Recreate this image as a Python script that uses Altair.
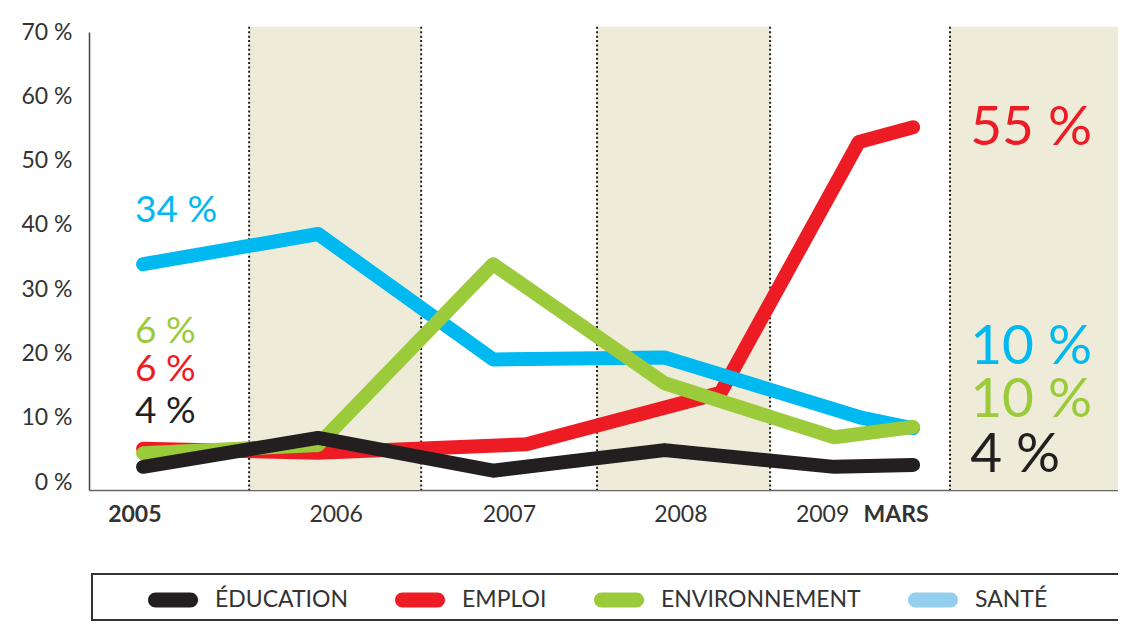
import altair as alt
import pandas as pd

# ---------------- data ----------------
categories = ["ÉDUCATION", "EMPLOI", "ENVIRONNEMENT", "SANTÉ"]
line_colors = ["#231F20", "#ED1C24", "#9BCA3B", "#00B9F1"]
legend_colors = ["#231F20", "#ED1C24", "#9BCA3B", "#94CFF0"]

# x = years elapsed since 2005 (last point = MARS)
educ_t = [0, 1, 2, 2.98, 3.95, 4.4]
educ_v = [2.4, 6.9, 1.8, 5.0, 2.4, 2.7]
emploi_t = [0, 1, 2.19, 3.3, 4.09, 4.4]
emploi_v = [5.2, 4.6, 5.9, 13.9, 52.9, 55.2]
env_t = [0, 1, 2, 2.98, 3.95, 4.4]
env_v = [4.5, 5.8, 33.9, 15.4, 7.0, 8.6]
sante_t = [0, 1, 2, 2.98, 4.11, 4.4]
sante_v = [33.9, 38.6, 19.1, 19.4, 10.0, 8.4]

x_tick_pos = [-0.05, 1.1, 2.09, 3.07, 3.88, 4.3]
x_tick_labels = ["2005", "2006", "2007", "2008", "2009", "MARS"]
x_bold_labels = ["2005", "MARS"]
y_ticks = [0, 10, 20, 30, 40, 50, 60, 70]

band_start = [0.606, 2.594, 4.611]
band_end = [1.589, 3.583, 5.571]
divider_pos = [0.606, 1.589, 2.594, 3.583, 4.611]

left_text = ["34 %", "6 %", "6 %", "4 %"]
left_pos_v = [42.2, 23.4, 17.5, 10.9]
left_colors = ["#00B9F1", "#9BCA3B", "#ED1C24", "#231F20"]
right_text = ["55 %", "10 %", "10 %", "4 %"]
right_pos_v = [55.1, 21.0, 12.8, 4.2]
right_colors = ["#ED1C24", "#00B9F1", "#9BCA3B", "#231F20"]
left_label_t = -0.046
right_label_t = 4.726

# ---------------- tables ----------------
series = {
    "ÉDUCATION": (educ_t, educ_v),
    "EMPLOI": (emploi_t, emploi_v),
    "ENVIRONNEMENT": (env_t, env_v),
    "SANTÉ": (sante_t, sante_v),
}
rows = []
for cat, (ts, vs) in series.items():
    for t, v in zip(ts, vs):
        rows.append({"cat": cat, "t": t, "v": v})
lines_df = pd.DataFrame(rows)

bands_df = pd.DataFrame({"t": band_start, "t2": band_end})
div_df = pd.DataFrame({"t": divider_pos})
left_df = pd.DataFrame({"label": left_text, "v": left_pos_v, "c": left_colors, "t": left_label_t})
right_df = pd.DataFrame({"label": right_text, "v": right_pos_v, "c": right_colors, "t": right_label_t})
# legend helper points sit hidden under the last shaded band
legend_df = pd.DataFrame({"cat": categories, "t": 5.0, "v": 60.0})

Y_TOP = 70.8
Y_BOT = -1.2
xscale = alt.Scale(domain=[-0.309, 5.571], nice=False, zero=False)
yscale = alt.Scale(domain=[Y_BOT, 70], nice=False, zero=False)

# x label expression
mids = [(a + b) / 2 for a, b in zip(x_tick_pos[:-1], x_tick_pos[1:])]
expr = "'%s'" % x_tick_labels[-1]
for m, lab in reversed(list(zip(mids, x_tick_labels[:-1]))):
    expr = "datum.value < %f ? '%s' : %s" % (m, lab, expr)
bold_test = " || ".join(
    "abs(datum.value - %f) < 0.01" % p for p, l in zip(x_tick_pos, x_tick_labels) if l in x_bold_labels
)

x_axis = alt.Axis(
    values=x_tick_pos, labelExpr=expr, ticks=False, grid=False, title=None,
    domainColor="#666", domainWidth=1.5, labelFontSize=23, labelColor="#333",
    labelFont="Lato", labelPadding=13, labelFlush=False, labelOverlap=False,
    labelFontWeight={"condition": {"test": bold_test, "value": "bold"}, "value": "normal"},
)
y_axis = alt.Axis(
    values=y_ticks, labelExpr="datum.value + ' %'", ticks=False, grid=False, title=None,
    domainColor="#444", domainWidth=1.5, labelFontSize=23, labelColor="#333",
    labelFont="Lato", labelPadding=17, labelFlush=False, labelOverlap=False,
)

pill = "M-0.7,-0.3L0.7,-0.3A0.3,0.3,0,0,1,0.7,0.3L-0.7,0.3A0.3,0.3,0,0,1,-0.7,-0.3Z"
legend_layer = alt.Chart(legend_df).mark_point(filled=True, size=10).encode(
    x=alt.X("t:Q", scale=xscale, axis=x_axis),
    y=alt.Y("v:Q", scale=yscale, axis=y_axis),
    fill=alt.Fill(
        "cat:N",
        scale=alt.Scale(domain=categories, range=legend_colors),
        legend=alt.Legend(
            orient="none", legendX=59, legendY=543, direction="horizontal", title=None,
            symbolType=pill, symbolSize=2500, symbolStrokeWidth=0, symbolOpacity=1,
            labelFont="Lato", labelFontSize=23, labelColor="#333", labelOffset=17,
            labelLimit=0, columnPadding=47, padding=0,
        ),
    ),
)

bands = alt.Chart(bands_df).mark_rect(color="#EFEBD9").encode(
    x="t:Q", x2="t2:Q", y=alt.datum(Y_TOP), y2=alt.datum(Y_BOT),
)

dividers = alt.Chart(div_df).mark_rule(color="#222", strokeWidth=2, strokeDash=[2, 2.4]).encode(
    x="t:Q", y=alt.datum(Y_TOP), y2=alt.datum(Y_BOT)
)

color_enc = alt.Color("cat:N", scale=alt.Scale(domain=categories, range=line_colors), legend=None)


def line_layer(cat):
    return alt.Chart(lines_df).transform_filter(alt.datum.cat == cat).mark_line(
        strokeWidth=14, strokeCap="round", strokeJoin="round"
    ).encode(x="t:Q", y="v:Q", color=color_enc, order="t:Q")


lines = [line_layer(c) for c in ["EMPLOI", "SANTÉ", "ENVIRONNEMENT", "ÉDUCATION"]]

left_labels = alt.Chart(left_df).mark_text(
    align="left", baseline="middle", font="Lato", fontSize=37
).encode(x="t:Q", y="v:Q", text="label:N", color=alt.Color("c:N", scale=None))

right_labels = alt.Chart(right_df).mark_text(
    align="left", baseline="middle", font="Lato", fontSize=55
).encode(x="t:Q", y="v:Q", text="label:N", color=alt.Color("c:N", scale=None))

frame = alt.Chart(pd.DataFrame({"k": [0]})).mark_rect(
    filled=False, stroke="#333", strokeWidth=2
).encode(x=alt.value(3), x2=alt.value(1045), y=alt.value(542), y2=alt.value(588))

chart = alt.layer(
    legend_layer, bands, dividers, *lines, left_labels, right_labels, frame
).properties(
    width=1029, height=458,
    autosize=alt.AutoSizeParams(type="none"),
    padding={"left": 81, "top": 24, "right": 0, "bottom": 132},
    background="white",
).configure_view(stroke=None)

chart.save("out.html", embed_options={"renderer": "svg", "actions": False})
